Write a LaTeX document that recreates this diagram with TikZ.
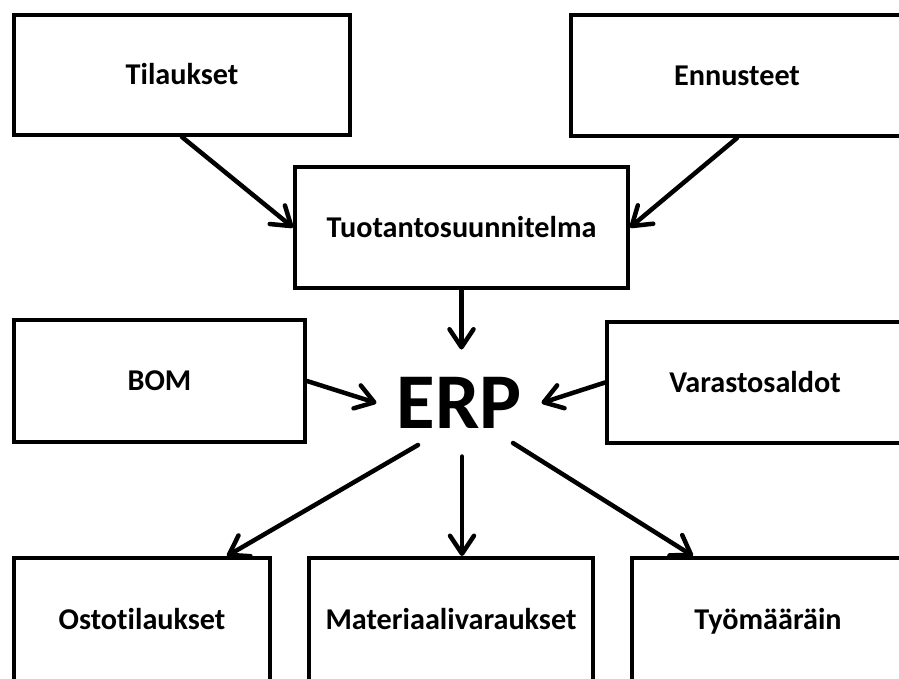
\documentclass[tikz,border=0pt]{standalone}
\usepackage{fontspec}
\setmainfont{Carlito}[Ligatures={NoCommon}]
\usetikzlibrary{arrows.meta}
\begin{document}
\begin{tikzpicture}[x=1pt, y=-1pt,
  box/.style={draw, line width=4pt, rectangle, inner sep=0pt,
    font=\fontsize{30.2}{32}\selectfont\bfseries,
    text height=19pt, text depth=0pt},
  flow/.style={line width=4.5pt, line cap=round,
    -{Straight Barb[length=18pt, width=24pt, round]}},
  hub/.style={inner xsep=20pt, inner ysep=28pt, outer sep=0pt,
    font=\fontsize{79}{80}\selectfont\bfseries,
    text height=51pt, text depth=0pt}
]
\useasboundingbox (0,0) rectangle (899,678);
\clip (0,0) rectangle (899,678);

% inputs
\node[box, minimum width=336pt, minimum height=120pt] (til) at (182,75) {Tilaukset};
\node[box, minimum width=332pt, minimum height=121pt] (enn) at (737,75.5) {Ennusteet};
\node[box, minimum width=333pt, minimum height=121pt] (tuo) at (461.5,227.5) {Tuotantosuunnitelma};
\node[box, minimum width=291pt, minimum height=122pt] (bom) at (159.5,381) {BOM};
\node[box, minimum width=296pt, minimum height=121pt] (var) at (755,382.5) {Varastosaldot};

% central system
\node[hub] (erp) at (459,403) {ERP};

% outputs
\node[box, minimum width=256pt, minimum height=124pt] (osto) at (142,620) {Ostotilaukset};
\node[box, minimum width=284pt, minimum height=124pt] (mat) at (451,620) {Materiaalivaraukset};
\node[box, minimum width=272pt, minimum height=124pt] (tyo) at (768,620) {Työmääräin};

% connectors
\draw[flow] (til.south) -- (tuo.west);
\draw[flow] (enn.south) -- (tuo.east);
\draw[flow] (tuo.south) -- (tuo.south |- erp.north);
\draw[flow] (bom.east) -- (erp.west);
\draw[flow] (var.west) -- (erp.east);
\draw[flow] ([shift={(-41pt,-42pt)}]erp.center) -- ([xshift=85pt]osto.north);
\draw[flow] ([xshift=3pt]erp.south) -- ([xshift=3pt]erp.south |- mat.north);
\draw[flow] ([shift={(54pt,-40pt)}]erp.center) -- ([xshift=-75pt]tyo.north);
\end{tikzpicture}
\end{document}
